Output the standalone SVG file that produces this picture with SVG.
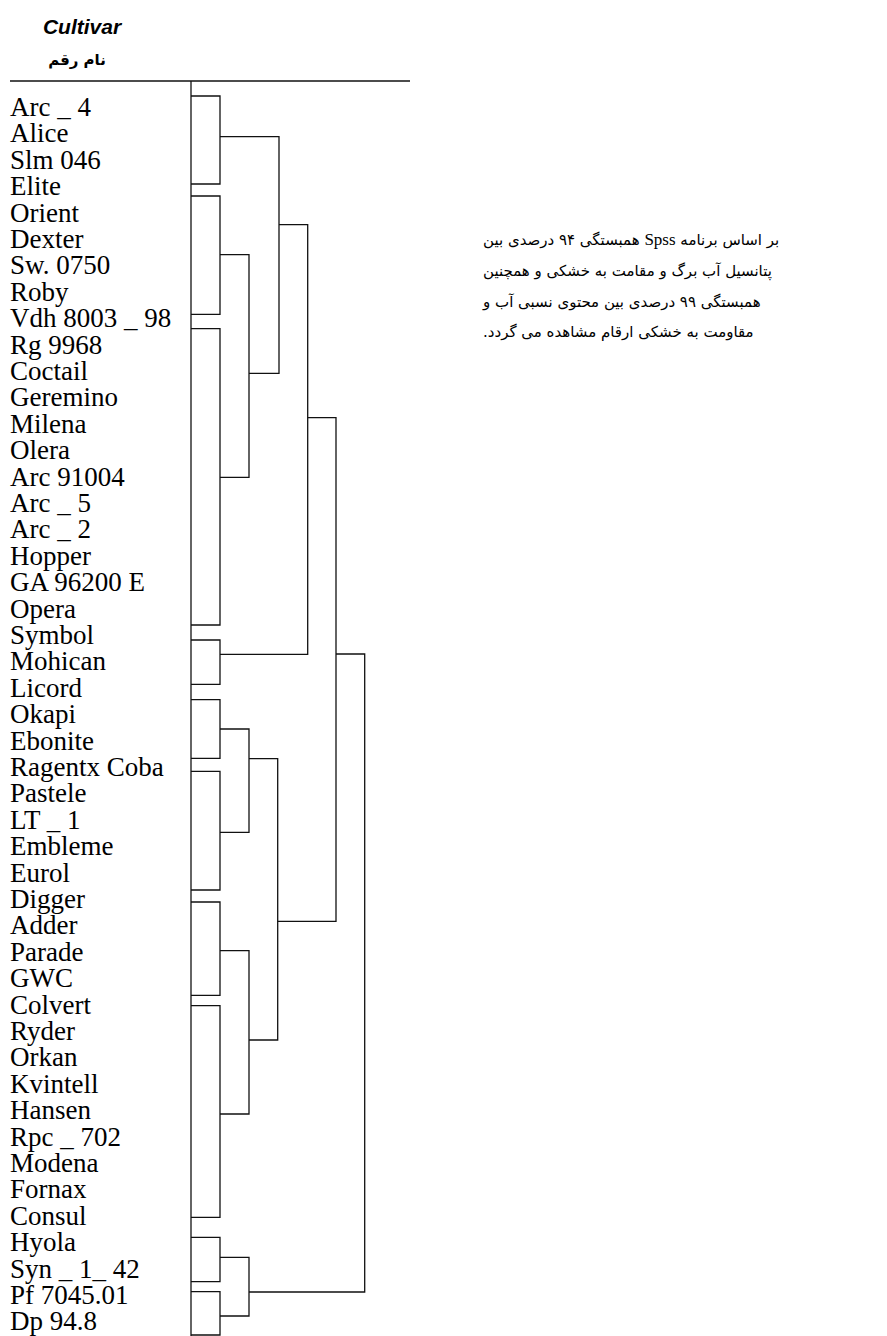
<svg xmlns="http://www.w3.org/2000/svg" width="887" height="1336" viewBox="0 0 887 1336">
<style>
.lbl{font-family:"Liberation Serif","Times New Roman",serif;font-size:27px;fill:#000;white-space:pre}
.ln{fill:none;stroke:#111;stroke-width:1.3}
.fa{font-family:"DejaVu Sans",sans-serif;font-size:15px;fill:#000}
</style>
<rect width="887" height="1336" fill="#fff"/>
<g id="header">
<text x="82" y="34" text-anchor="middle" style="font-family:'Liberation Sans',Arial,sans-serif;font-weight:bold;font-style:italic;font-size:21px">Cultivar</text>
<text x="77" y="65" text-anchor="middle" direction="rtl" style="font-family:'DejaVu Sans',sans-serif;font-weight:bold;font-size:15px">نام رقم</text>
</g>
<g id="axes" class="ln">
<path d="M10 81 H410"/>
<path d="M191 81 V1336"/>
</g>
<g id="leaves">
<text class="lbl" x="10" y="116">Arc _ 4</text>
<text class="lbl" x="10" y="142.4">Alice</text>
<text class="lbl" x="10" y="168.8">Slm 046</text>
<text class="lbl" x="10" y="195.2">Elite</text>
<text class="lbl" x="10" y="221.6">Orient</text>
<text class="lbl" x="10" y="248">Dexter</text>
<text class="lbl" x="10" y="274.4">Sw. 0750</text>
<text class="lbl" x="10" y="300.8">Roby</text>
<text class="lbl" x="10" y="327.2">Vdh 8003 _ 98</text>
<text class="lbl" x="10" y="353.6">Rg 9968</text>
<text class="lbl" x="10" y="380">Coctail</text>
<text class="lbl" x="10" y="406.4">Geremino</text>
<text class="lbl" x="10" y="432.8">Milena</text>
<text class="lbl" x="10" y="459.2">Olera</text>
<text class="lbl" x="10" y="485.6">Arc 91004</text>
<text class="lbl" x="10" y="512">Arc _ 5</text>
<text class="lbl" x="10" y="538.4">Arc _ 2</text>
<text class="lbl" x="10" y="564.8">Hopper</text>
<text class="lbl" x="10" y="591.2">GA 96200 E</text>
<text class="lbl" x="10" y="617.6">Opera</text>
<text class="lbl" x="10" y="644">Symbol</text>
<text class="lbl" x="10" y="670.4">Mohican</text>
<text class="lbl" x="10" y="696.8">Licord</text>
<text class="lbl" x="10" y="723.2">Okapi</text>
<text class="lbl" x="10" y="749.6">Ebonite</text>
<text class="lbl" x="10" y="776">Ragentx Coba</text>
<text class="lbl" x="10" y="802.4">Pastele</text>
<text class="lbl" x="10" y="828.8">LT _ 1</text>
<text class="lbl" x="10" y="855.2">Embleme</text>
<text class="lbl" x="10" y="881.6">Eurol</text>
<text class="lbl" x="10" y="908">Digger</text>
<text class="lbl" x="10" y="934.4">Adder</text>
<text class="lbl" x="10" y="960.8">Parade</text>
<text class="lbl" x="10" y="987.2">GWC</text>
<text class="lbl" x="10" y="1013.6">Colvert</text>
<text class="lbl" x="10" y="1040">Ryder</text>
<text class="lbl" x="10" y="1066.4">Orkan</text>
<text class="lbl" x="10" y="1092.8">Kvintell</text>
<text class="lbl" x="10" y="1119.2">Hansen</text>
<text class="lbl" x="10" y="1145.6">Rpc _ 702</text>
<text class="lbl" x="10" y="1172">Modena</text>
<text class="lbl" x="10" y="1198.4">Fornax</text>
<text class="lbl" x="10" y="1224.8">Consul</text>
<text class="lbl" x="10" y="1251.2">Hyola</text>
<text class="lbl" x="10" y="1277.6">Syn _ 1_ 42</text>
<text class="lbl" x="10" y="1304">Pf 7045.01</text>
<text class="lbl" x="10" y="1330.4">Dp 94.8</text>
</g>
<g id="connectors" class="ln">
<path d="M191 96 H220 V184 H191"/>
<path d="M191 196 H220 V314.3 H191"/>
<path d="M191 328.7 H220 V625 H191"/>
<path d="M191 640 H220 V684.3 H191"/>
<path d="M191 699.7 H220 V758.3 H191"/>
<path d="M191 771.3 H220 V890 H191"/>
<path d="M191 902 H220 V995.3 H191"/>
<path d="M191 1005.7 H220 V1217.3 H191"/>
<path d="M191 1237.3 H220 V1281.7 H191"/>
<path d="M191 1291.7 H220 V1335 H191"/>
<path d="M220 136.7 H279 V373.3 H249"/>
<path d="M220 254.7 H249 V477.3 H220"/>
<path d="M279 224.7 H307.7 V654.3 H220"/>
<path d="M307.7 417.7 H336 V921.3 H277.7"/>
<path d="M336 654 H364.7 V1292 H249"/>
<path d="M220 729 H249 V832.3 H220"/>
<path d="M249 758.7 H277.7 V1040 H249"/>
<path d="M220 950.7 H249 V1114 H220"/>
<path d="M220 1257.3 H249 V1316 H220"/>
</g>
<g id="note">
<text class="fa" x="483" y="245" direction="rtl" text-anchor="end">بر اساس برنامه <tspan style="font-family:'Liberation Serif',serif;font-size:17px">Spss</tspan> همبستگی ۹۴ درصدی بین</text>
<text class="fa" x="483" y="276" direction="rtl" text-anchor="end">پتانسیل آب برگ و مقامت به خشکی و همچنین</text>
<text class="fa" x="483" y="307" direction="rtl" text-anchor="end">همبستگی ۹۹ درصدی بین محتوی نسبی آب و</text>
<text class="fa" x="483" y="337" direction="rtl" text-anchor="end">مقاومت به خشکی ارقام مشاهده می گردد.</text>
</g>
</svg>
